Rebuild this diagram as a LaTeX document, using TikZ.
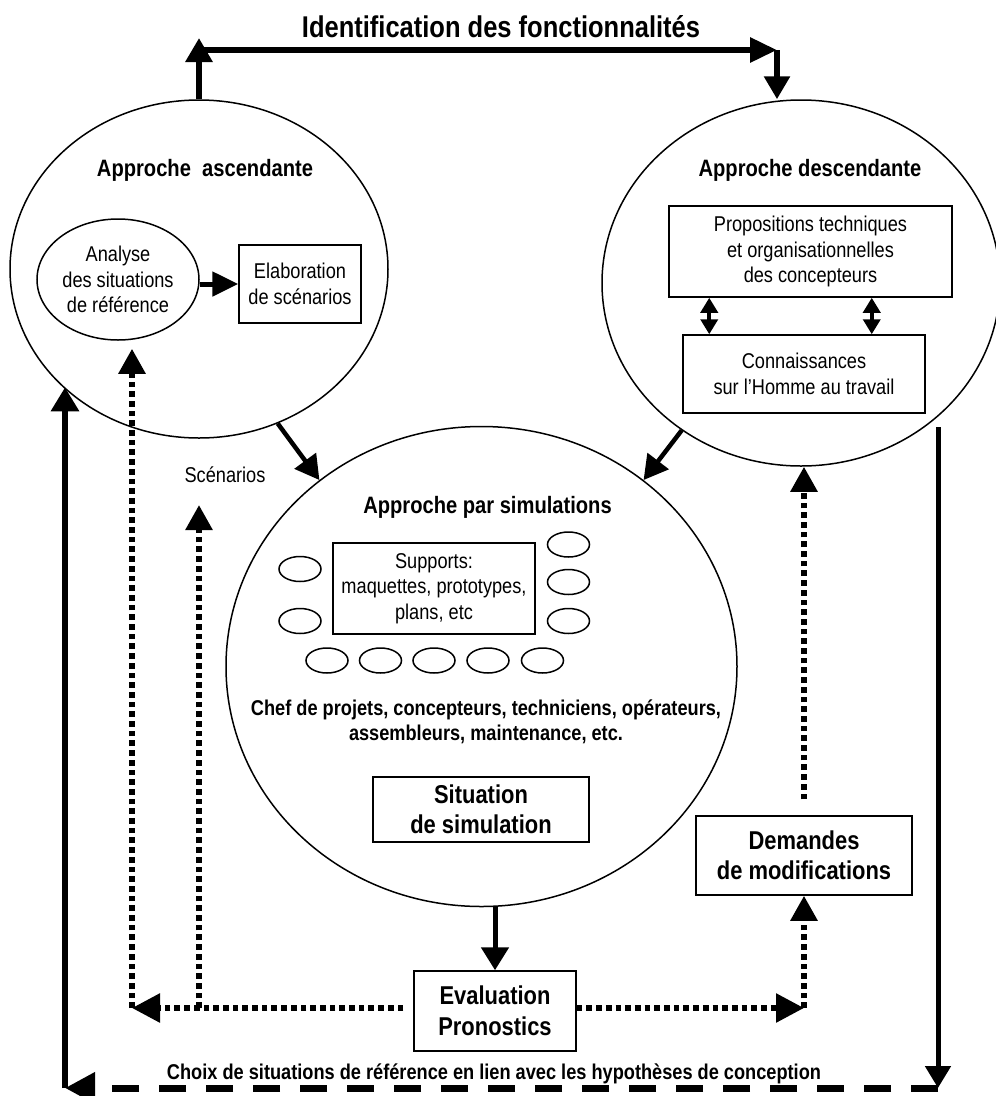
\documentclass[tikz,border=0pt]{standalone}
\usepackage{fontspec}
\setmainfont{Liberation Sans}[FakeStretch=0.85]
\usetikzlibrary{arrows.meta,shapes.geometric,calc}
\begin{document}
\begin{tikzpicture}[x=1pt,y=-1pt,
  circ/.style={draw, ellipse, line width=1.5pt, inner sep=0pt},
  smallell/.style={draw, ellipse, line width=1.5pt, inner sep=0pt, minimum width=42pt, minimum height=25pt},
  box/.style={draw, rectangle, line width=1.5pt, inner sep=0pt, align=center},
  fN/.style={font=\fontsize{21.4}{25.5}\selectfont, align=center},
  fH/.style={font=\bfseries\fontsize{23.7}{28}\selectfont},
  fB/.style={font=\bfseries\fontsize{25.8}{30.5}\selectfont, align=center},
  fC/.style={font=\bfseries\fontsize{21.4}{25.5}\selectfont, align=center},
  fT/.style={font=\bfseries\fontsize{30}{34}\selectfont},
  solidarrow/.style={line width=6pt, -{Triangle[length=24pt,width=26pt]}},
  medarrow/.style={line width=5pt, -{Triangle[length=24pt,width=26pt]}},
  dotline/.style={line width=5.7pt, dash pattern=on 5.7pt off 4pt},
  dotarrow/.style={dotline, -{Triangle[length=25pt,width=26pt]}},
  dotharrow/.style={dotline, -{Triangle[length=28pt,width=28pt]}},
  dashline/.style={line width=7pt, dash pattern=on 27pt off 20pt, -{Triangle[length=30pt,width=30pt]}},
  dblarrow/.style={line width=4pt, {Triangle[length=15pt,width=17pt]}-{Triangle[length=15pt,width=17pt]}}
]
\useasboundingbox (0,0) rectangle (996,1096);

% title
\node[fT, anchor=base, inner sep=0pt] (title) at (501,37) {Identification des fonctionnalités};

% main ellipses
\node[circ, minimum width=378pt, minimum height=338pt] (asc) at (199,269) {};
\node[circ, minimum width=398pt, minimum height=366pt] (desc) at (801,283) {};
\node[circ, minimum width=511pt, minimum height=480pt] (sim) at (481.5,666.5) {};

% headings
\node[fH, anchor=base, inner sep=0pt] (hasc) at (205,176) {Approche\ \ ascendante};
\node[fH, anchor=base, inner sep=0pt] (hdesc) at (810,176) {Approche descendante};
\node[fH, anchor=base, inner sep=0pt] (hsim) at (487.5,513) {Approche par simulations};

% left circle content
\node[circ, fN, minimum width=162pt, minimum height=121pt] (ana) at (118,279.5) {Analyse\\des situations\\de référence};
\node[box, fN, minimum width=122pt, minimum height=78pt] (elab) at (300,284) {Elaboration\\de scénarios};
\draw[medarrow, -{Triangle[length=26pt,width=24pt]}] (ana.east |- elab.west) -- (elab.west);

% right circle content
\node[box, fN, minimum width=283pt, minimum height=91pt] (prop) at (810.5,251.5) {Propositions techniques\\et organisationnelles\\des concepteurs};
\node[box, fN, minimum width=242pt, minimum height=78pt] (conn) at (804,374) {Connaissances\\sur l’Homme au travail};
\coordinate (da1) at ($(prop.south west)+(41,0)$);
\coordinate (da2) at ($(prop.south east)+(-81,0)$);
\draw[dblarrow] (da1) -- (da1 |- conn.north);
\draw[dblarrow] (da2) -- (da2 |- conn.north);

% simulation circle content
\node[box, fN, minimum width=202pt, minimum height=91pt] (supp) at (434,588.5) {Supports:\\maquettes, prototypes,\\plans, etc};
\node[smallell] (e1) at (300,569) {};
\node[smallell] (e2) at (300,621) {};
\node[smallell] (e3) at (568.5,544.5) {};
\node[smallell] (e4) at (568.5,582) {};
\node[smallell] (e5) at (568.5,621) {};
\node[smallell] (e6) at (327,660.5) {};
\node[smallell] (e7) at (380.5,660.5) {};
\node[smallell] (e8) at (434,660.5) {};
\node[smallell] (e9) at (488,660.5) {};
\node[smallell] (e10) at (542.5,660.5) {};
\node[fC, inner sep=0pt] (actors) at (486,722) {Chef de projets, concepteurs, techniciens, opérateurs,\\assembleurs, maintenance, etc.};
\node[box, fB, minimum width=216pt, minimum height=65pt] (sit) at (481,809.5) {Situation\\de simulation};

% other boxes
\node[box, fB, minimum width=216pt, minimum height=79pt] (dem) at (804,855.5) {Demandes\\de modifications};
\node[box, fB, minimum width=162pt, minimum height=80pt] (ev) at (495,1011) {Evaluation\\Pronostics};
\node[fN, anchor=base, inner sep=0pt] (scen) at (225,482) {Scénarios};
\node[fC, anchor=base, inner sep=0pt] (capt) at (494,1079) {Choix de situations de référence en lien avec les hypothèses de conception};

% top connector
\coordinate (tl) at (199,50);
\coordinate (tltip) at (199,38);
\coordinate (tr) at (777,50);
\draw[solidarrow] (asc.north) -- (tltip);
\draw[solidarrow, -{Triangle[length=27pt,width=24pt]}] (tl) -- (tr);
\draw[solidarrow, -{Triangle[length=23pt,width=25pt]}] (tr) -- (tr |- desc.north);

% circles to simulation
\draw[medarrow, line width=4.5pt] (asc.-63) -- (sim.131);
\draw[medarrow, line width=4.5pt] (desc.-129.6) -- (sim.49);
\draw[medarrow, -{Triangle[length=23pt,width=27pt]}] (ev.north |- sim.south) -- (ev.north);

% outer loop
\coordinate (rs) at (938,427);
\coordinate (br) at (938,1088);
\coordinate (bl) at (65,1088);
\draw[line width=5pt, -{Triangle[length=22pt,width=25pt]}] (rs) -- (br);
\draw[dashline] (br) -- (bl);
\draw[solidarrow, -{Triangle[length=24pt,width=27pt]}] (bl) -- (bl |- asc.221.6);

% dotted feedback
\coordinate (dl) at (132,1008);
\coordinate (dm) at (199,1008);
\coordinate (dr) at (804,1008);
\coordinate (scentip) at (199,505);
\draw[dotharrow, shorten <=10pt] (ev.west |- dl) -- (dl);
\draw[dotarrow, shorten >=8pt] (dl) -- (dl |- ana.south);
\draw[dotarrow] (dm) -- (scentip);
\draw[dotharrow] (ev.east |- dr) -- (dr);
\draw[dotarrow] (dr) -- (dem.south);
\draw[dotarrow, shorten <=16pt] (dem.north) -- (dem.north |- desc.south);
\end{tikzpicture}
\end{document}
